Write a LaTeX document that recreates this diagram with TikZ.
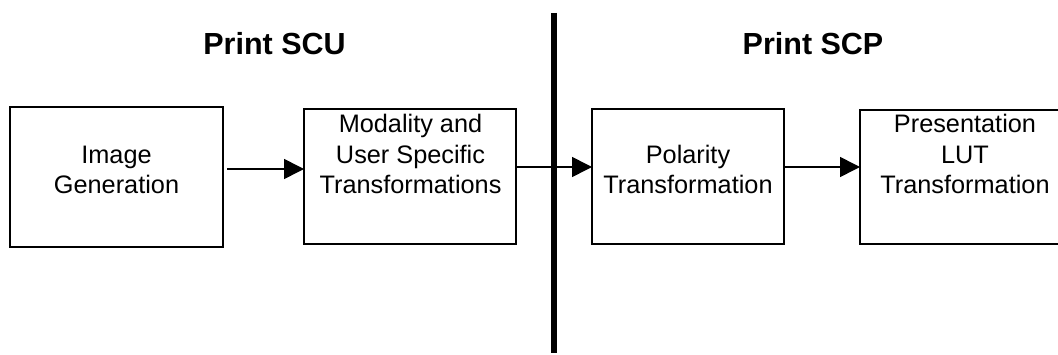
\documentclass[tikz,border=0pt]{standalone}
\usepackage{fontspec}
\setmainfont{Liberation Sans}
\usetikzlibrary{arrows.meta}
\begin{document}
\begin{tikzpicture}[x=1pt,y=1pt,
  box/.style={draw=black,line width=1.6pt,anchor=south west,inner sep=0pt,outer sep=0pt},
  boxtext/.style={anchor=south,align=center,inner sep=0pt,font=\fontsize{25.3}{30.5}\selectfont},
  title/.style={anchor=base,inner sep=0pt,font=\fontsize{30.5}{34}\selectfont\bfseries},
  conn/.style={line width=1.6pt,-{Triangle[length=20pt,width=20pt]}}]
\useasboundingbox (0,0) rectangle (1058,354);
\begin{scope}
\clip (0,0) rectangle (1058,354);
\node[box,minimum width=213,minimum height=140] (b1) at (10,107) {};
\node[box,minimum width=212,minimum height=135] (b2) at (304,110) {};
\node[box,minimum width=192,minimum height=135] (b3) at (592,110) {};
\node[box,minimum width=212,minimum height=134] (b4) at (860,110) {};
\end{scope}
\node[boxtext] (t1) at (116.5,160) {Image\\Generation};
\node[boxtext] (t2) at (410.5,160) {Modality and\\User Specific\\Transformations};
\node[boxtext] (t3) at (688,160) {Polarity\\Transformation};
\node[boxtext] (t4) at (965,160) {Presentation\\LUT\\Transformation};
\node[title] (s1) at (274.5,299) {Print SCU};
\node[title] (s2) at (813,299) {Print SCP};
\coordinate (vtop) at (554,341);
\coordinate (vbot) at (554,1);
\draw[line width=6pt] (vtop) -- (vbot);
\draw[conn] ([xshift=4pt]b1.east |- 0,185) -- (b2.west |- 0,185);
\draw[conn] (b2.east |- 0,187) -- (b3.west |- 0,187);
\draw[conn] (b3.east |- 0,187) -- (b4.west |- 0,187);
\end{tikzpicture}
\end{document}
